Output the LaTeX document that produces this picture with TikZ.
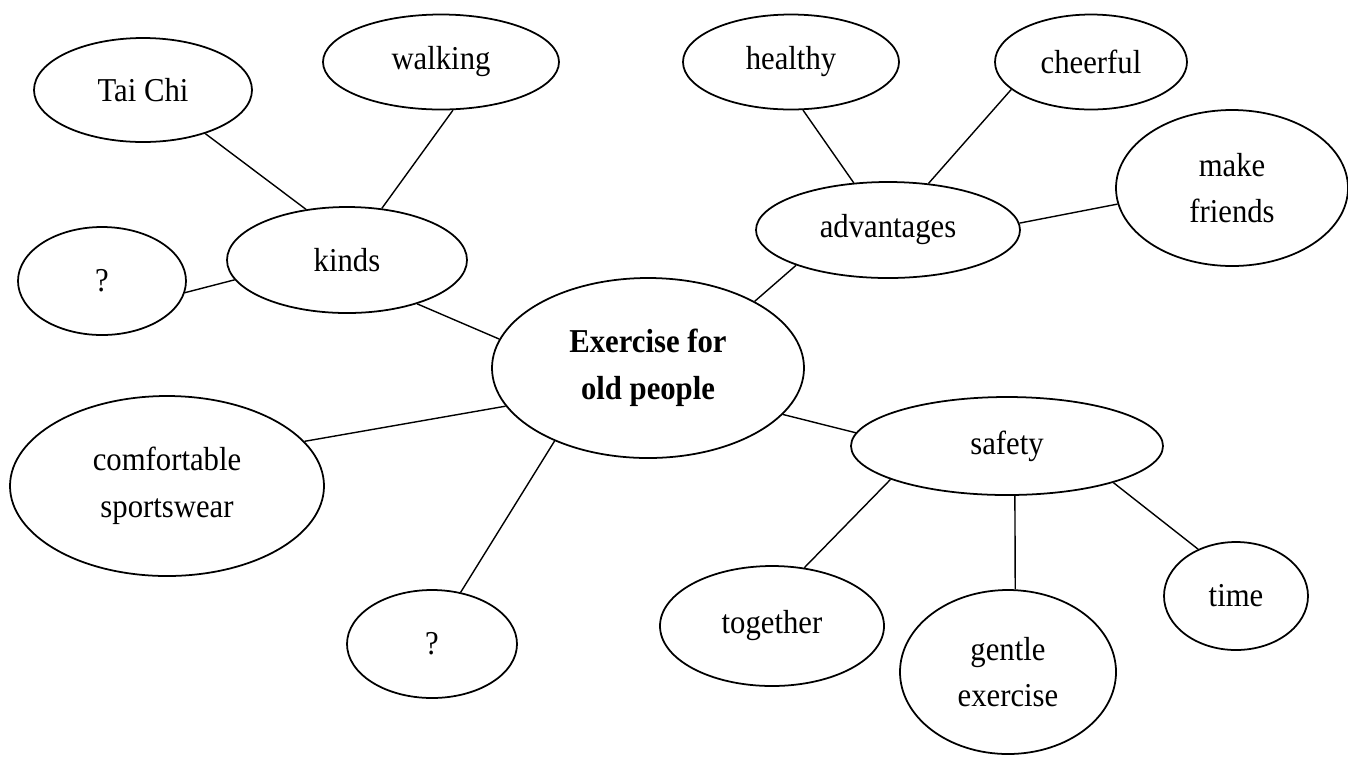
\documentclass[tikz,border=0pt]{standalone}
\usepackage{fontspec}
\setmainfont{Liberation Serif}[FakeStretch=0.92]
\usepackage{tikz}
\usetikzlibrary{shapes.geometric}

\begin{document}
\begin{tikzpicture}[
	bubble/.style={draw, ellipse, line width=1pt, inner sep=0pt, align=center,
		font=\fontsize{19}{26.5}\selectfont},
	link/.style={line width=0.8pt}]
	\useasboundingbox (0,0) rectangle (26.96,-15.14);
	\node[bubble, minimum width=6.24cm, minimum height=3.6cm] (centre) at (12.96,-7.36) {\textbf{Exercise for}\\\textbf{old people}};
	\node[bubble, minimum width=4.8cm, minimum height=2.12cm] (kinds) at (6.94,-5.2) {kinds};
	\node[bubble, minimum width=4.36cm, minimum height=2.08cm] (taichi) at (2.86,-1.8) {Tai Chi};
	\node[bubble, minimum width=4.72cm, minimum height=1.9cm] (walking) at (8.82,-1.24) {walking};
	\node[bubble, minimum width=3.36cm, minimum height=2.16cm] (qone) at (2.04,-5.62) {?};
	\node[bubble, minimum width=6.28cm, minimum height=3.6cm] (comfort) at (3.34,-9.72) {comfortable\\sportswear};
	\node[bubble, minimum width=3.4cm, minimum height=2.16cm] (qtwo) at (8.64,-12.88) {?};
	\node[bubble, minimum width=5.28cm, minimum height=1.92cm] (advant) at (17.76,-4.6) {advantages};
	\node[bubble, minimum width=4.32cm, minimum height=1.9cm] (healthy) at (15.82,-1.24) {healthy};
	\node[bubble, minimum width=3.84cm, minimum height=1.9cm] (cheerful) at (21.82,-1.24) {cheerful};
	\node[bubble, minimum width=4.64cm, minimum height=3.12cm] (friends) at (24.64,-3.76) {make\\friends};
	\node[bubble, minimum width=6.24cm, minimum height=1.96cm] (safety) at (20.14,-8.92) {safety};
	\node[bubble, minimum width=4.48cm, minimum height=2.4cm] (together) at (15.44,-12.52) {together};
	\node[bubble, minimum width=4.32cm, minimum height=3.28cm] (gentle) at (20.16,-13.44) {gentle\\exercise};
	\node[bubble, minimum width=2.88cm, minimum height=2.16cm] (time) at (24.72,-11.92) {time};

	\draw[link] (taichi.-35) -- (kinds.129.5);
	\draw[link] (walking.-76.5) -- (kinds.56.6);
	\draw[link] (qone.-8.8) -- (kinds.190);
	\draw[link] (kinds.-32.5) -- (centre.169.3);
	\draw[link] (comfort.18.2) -- (centre.195.3);
	\draw[link] (qtwo.61.7) -- (centre.218.8);
	\draw[link] (centre.32) -- (advant.201);
	\draw[link] (healthy.-76.8) -- (advant.126);
	\draw[link] (cheerful.199.5) -- (advant.49.6);
	\draw[link] (advant.3) -- (friends.188.3);
	\draw[link] (centre.-19.7) -- (safety.175);
	\draw[link] (safety.196.6) -- (together.61.9);
	\draw[link] (safety.-81.9) -- (gentle.85.9);
	\draw[link] (safety.-19.9) -- (time.129.8);
\end{tikzpicture}
\end{document}
